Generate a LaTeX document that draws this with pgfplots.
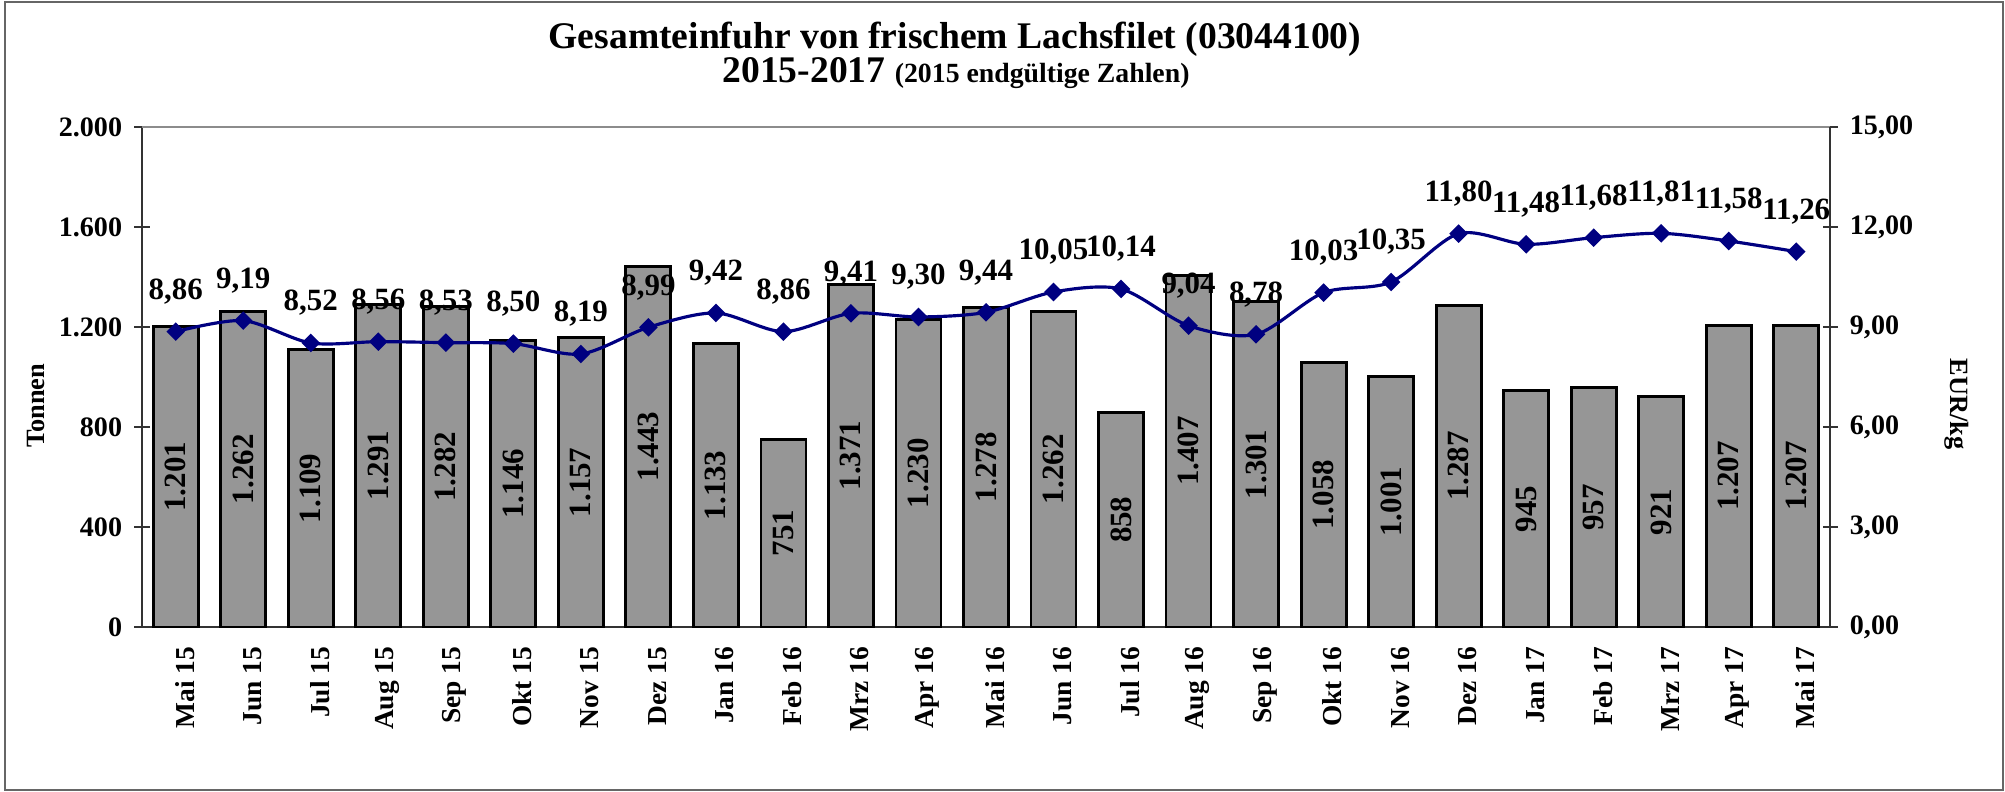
\documentclass[border=0pt]{standalone}
\usepackage{fontspec}
\setmainfont{Liberation Serif}
\usepackage{pgfplots}
\usepackage{pgfplotstable}
\pgfplotsset{compat=1.18}

\definecolor{barfill}{RGB}{150,150,150}
\definecolor{navy}{RGB}{0,0,128}

\newcommand{\fs}[1]{\bfseries\fontsize{#1}{#1}\selectfont}

% month, tonnes, EUR/kg
\pgfplotstableread{
x t p
0 1201 8.86
1 1262 9.19
2 1109 8.52
3 1291 8.56
4 1282 8.53
5 1146 8.50
6 1157 8.19
7 1443 8.99
8 1133 9.42
9 751 8.86
10 1371 9.41
11 1230 9.30
12 1278 9.44
13 1262 10.05
14 858 10.14
15 1407 9.04
16 1301 8.78
17 1058 10.03
18 1001 10.35
19 1287 11.80
20 945 11.48
21 957 11.68
22 921 11.81
23 1207 11.58
24 1207 11.26
}\lachs

\begin{document}
\begin{tikzpicture}
\path[use as bounding box] (0,0) rectangle (200.5mm,79.2mm);
\draw[black!60, line width=0.4pt] (0.5mm,0.2mm) rectangle (200.3mm,79.0mm);

\node[anchor=base] at (95.5mm,74.3mm) {\fs{10.7}Gesamteinfuhr von frischem Lachsfilet (03044100)};
\node[anchor=base] at (95.6mm,70.9mm) {\fs{10.7}2015-2017 {\fs{7.9}(2015 endgültige Zahlen)}};
\node[rotate=90] at (3.6mm,38.6mm) {\fs{7.5}Tonnen};
\node[rotate=-90] at (195.7mm,38.8mm) {\fs{7.5}EUR/kg};

\begin{axis}[
  at={(14.2mm,16.5mm)}, anchor=south west,
  scale only axis, width=168.8mm, height=50mm,
  xmin=-0.5, xmax=24.5, ymin=0, ymax=2000,
  axis x line*=bottom, axis y line*=left,
  axis line style={black!80, line width=0.5pt},
  xtick=data,
  xticklabels={Mai 15,Jun 15,Jul 15,Aug 15,Sep 15,Okt 15,Nov 15,Dez 15,Jan 16,Feb 16,Mrz 16,Apr 16,Mai 16,Jun 16,Jul 16,Aug 16,Sep 16,Okt 16,Nov 16,Dez 16,Jan 17,Feb 17,Mrz 17,Apr 17,Mai 17},
  xticklabel style={rotate=90, anchor=east, font=\fs{7.8}, yshift=-0.9mm},
  major x tick style={draw=none},
  ytick={0,400,...,2000},
  scaled y ticks=false,
  yticklabel style={font=\fs{8}, /pgf/number format/.cd, fixed, 1000 sep={.}, assume math mode=true},
  tick align=center, major tick length=1.5mm,
  major y tick style={black!80, line width=0.5pt},
  clip=false,
]
\addplot[ybar, bar width=4.5mm, bar shift=0pt, fill=barfill, draw=black, line width=0.8pt] table[x=x, y=t] {\lachs};
\addplot[draw=none, mark=none, nodes near coords, point meta=\thisrow{t},
  nodes near coords style={rotate=90, anchor=center, font=\fs{8.8},
    /pgf/number format/.cd, fixed, precision=0, 1000 sep={.}, assume math mode=true}]
  table[x=x, y expr=\thisrow{t}/2] {\lachs};
\end{axis}

\begin{axis}[
  at={(14.2mm,16.5mm)}, anchor=south west,
  scale only axis, width=168.8mm, height=50mm,
  xmin=-0.5, xmax=24.5, ymin=0, ymax=15,
  axis x line*=top, xtick=\empty,
  x axis line style={black!45, line width=0.5pt},
  axis y line*=right,
  y axis line style={black!80, line width=0.5pt},
  ytick={0,3,...,15},
  yticklabel style={font=\fs{8}, /pgf/number format/.cd, fixed, fixed zerofill, precision=2, use comma, assume math mode=true},
  tick align=center, major tick length=1.5mm,
  major y tick style={black!80, line width=0.5pt},
  clip=false,
]
\addplot[navy, line width=0.9pt, smooth, tension=0.5, mark=square*, mark size=0.5mm,
  mark options={rotate=45, fill=navy, draw=navy, solid},
  nodes near coords, point meta=\thisrow{p},
  nodes near coords style={anchor=south, yshift=4pt, black, font=\fs{8.8},
    /pgf/number format/.cd, fixed, fixed zerofill, precision=2, use comma, assume math mode=true}]
  table[x=x, y=p] {\lachs};
\end{axis}
\end{tikzpicture}
\end{document}
